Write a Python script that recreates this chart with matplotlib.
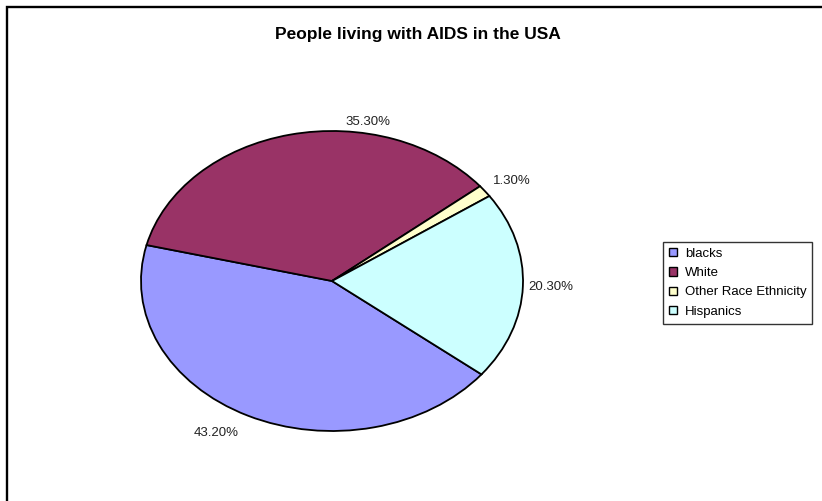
import matplotlib
matplotlib.use("Agg")
import matplotlib.pyplot as plt
from matplotlib.patches import Patch, Rectangle

# Share of people living with AIDS in the USA, by race / ethnicity
groups = ["blacks", "White", "Other Race Ethnicity", "Hispanics"]
shares = [43.2, 35.3, 1.3, 20.3]
colors = ["#9999FF", "#993366", "#FFFFCC", "#CCFFFF"]
title = "People living with AIDS in the USA"

# Where each percentage label sits, in the pie's unit (-1..1) coordinates
label_xy = [(-0.607, -1.013), (0.188, 1.06), (0.94, 0.667), (1.147, -0.04)]

W, H, DPI = 822, 501, 100
fig = plt.figure(figsize=(W / DPI, H / DPI), dpi=DPI)
fig.patch.set_facecolor("white")
font = "Liberation Sans"

# Chart-area frame (runs off the right and bottom edges)
fig.add_artist(Rectangle((6.5 / W, -0.05), 1.2, 1 - 7.0 / H + 0.05,
                         transform=fig.transFigure, fill=False,
                         edgecolor="black", linewidth=1.7))

# Elliptical plot area for the pie
ax = fig.add_axes([141 / W, (H - 431) / H, 382 / W, 300 / H])
wedges, _ = ax.pie(shares, colors=colors, startangle=-38.5, counterclock=False,
                   wedgeprops=dict(edgecolor="black", linewidth=1.3))
for w in wedges:
    w.set_clip_on(False)
ax.set_aspect("auto")
ax.set_xlim(-1, 1)
ax.set_ylim(-1, 1)
ax.axis("off")

for v, (x, y) in zip(shares, label_xy):
    ax.text(x, y, f"{v:.2f}%", ha="center", va="center",
            fontsize=9.5, family=font, color="#222222")

fig.text(418 / W, 1 - 35 / H, title, ha="center", va="center",
         fontsize=12.5, fontweight="bold", family=font)

handles = [Patch(facecolor=c, edgecolor="black", linewidth=1.0) for c in colors]
leg = fig.legend(handles, groups, loc="upper left",
                 bbox_to_anchor=(663 / W, 1 - 242 / H),
                 bbox_transform=fig.transFigure, frameon=True, fancybox=False,
                 shadow=False, borderaxespad=0, borderpad=0.45,
                 handlelength=0.6, handleheight=0.6, handletextpad=0.6,
                 labelspacing=0.55, prop=dict(family=font, size=9.5))
leg.get_frame().set_edgecolor("black")
leg.get_frame().set_linewidth(1.0)

fig.savefig("out.png", dpi=DPI, facecolor="white")
